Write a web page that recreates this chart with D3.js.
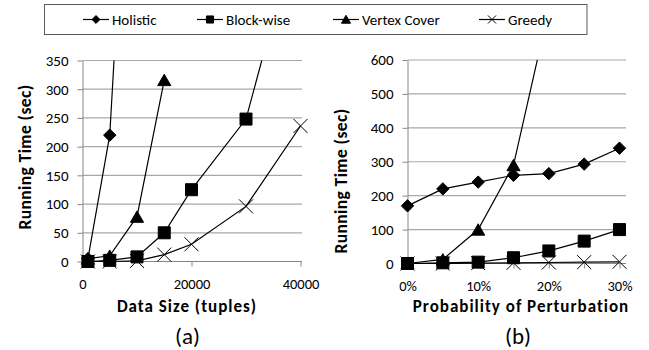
<!DOCTYPE html>
<html>
<head>
<meta charset="utf-8">
<script src="https://cdn.jsdelivr.net/npm/d3@7"></script>
<style>
    body { margin: 0; background: #fff; }
    svg { font-family: Carlito, Calibri, Lato, sans-serif; }
</style>
</head>
<body>
<svg id="chart" width="649" height="350"></svg>
<script>
// legend / series order
const seriesNames = ['Holistic', 'Block-wise', 'Vertex Cover', 'Greedy'];

// (a) running time vs data size
const sizeX = [1000, 5000, 10000, 15000, 20000, 30000, 40000];
const sizeHolistic = [5, 220, 1050];
const sizeBlockwise = [0, 2, 8, 50, 125, 248, 600];
const sizeVertex = [5, 10, 78, 316];
const sizeGreedy = [0, 0, 1, 12, 30, 96, 236];
const sizeXTicks = [0, 20000, 40000];
const sizeYTicks = [0, 50, 100, 150, 200, 250, 300, 350];

// (b) running time vs probability of perturbation
const probX = [0, 0.05, 0.10, 0.15, 0.20, 0.25, 0.30];
const probHolistic = [170, 220, 240, 260, 265, 293, 340];
const probBlockwise = [0, 2, 4, 17, 37, 66, 100];
const probVertex = [0, 12, 100, 290, 750];
const probGreedy = [0, 0, 1, 2, 3, 4, 5];
const probXTicks = [0, 0.10, 0.20, 0.30];
const probYTicks = [0, 100, 200, 300, 400, 500, 600];

const gridColor = '#a8a8a8';
const axisColor = '#868686';
const font = 'Carlito, Calibri, Lato, sans-serif';

const symX = d3.symbolX || d3.symbolTimes;

// marker look per series (size = plot, small = legend)
const markers = {
    'Holistic':     {type: d3.symbolDiamond2, size: 98, small: 40, fill: '#000', dy: 0},
    'Block-wise':   {type: d3.symbolSquare, size: 144, small: 50, fill: '#000', dy: 0},
    'Vertex Cover': {type: d3.symbolTriangle, size: 75, small: 36, fill: '#000', dy: 1.8},
    'Greedy':       {type: symX, size: 130, small: 44, fill: 'none', dy: 0}
};

const svg = d3.select('#chart');

// legend
const legendX = [83, 197, 333, 479];
svg.append('rect')
    .attr('x', 44.5).attr('y', 4.5).attr('width', 542.5).attr('height', 30)
    .attr('fill', 'none').attr('stroke', '#5a5a5a').attr('stroke-width', 1);

seriesNames.forEach((name, i) => {
    const g = svg.append('g').attr('transform', `translate(${legendX[i]}, 19.5)`);
    const m = markers[name];
    g.append('line').attr('x1', 0).attr('x2', 26).attr('y1', 0).attr('y2', 0)
        .attr('stroke', '#000').attr('stroke-width', 1.2);
    g.append('path')
        .attr('d', d3.symbol().type(m.type).size(m.small)())
        .attr('transform', `translate(13, ${m.dy * 0.6})`)
        .attr('fill', m.fill).attr('stroke', '#000').attr('stroke-width', 1);
    g.append('text').attr('x', 29).attr('y', 5.5).text(name)
        .attr('font-size', 15).attr('font-family', font).attr('fill', '#000');
});

function drawPanel(p) {
    const x = p.x, y = p.y;
    const x0 = x.range()[0];
    const yBottom = y.range()[0], yTop = y.range()[1];
    const g = svg.append('g');

    // horizontal gridlines
    g.selectAll('.grid').data(p.yTicks.filter(t => t > 0)).enter()
        .append('line')
        .attr('x1', x0).attr('x2', p.gridEnd)
        .attr('y1', d => y(d)).attr('y2', d => y(d))
        .attr('stroke', gridColor).attr('stroke-width', 1.2);

    // y axis
    const yAxis = g.append('g').attr('transform', `translate(${x0}, 0)`)
        .call(d3.axisLeft(y).tickValues(p.yTicks).tickSize(5).tickSizeOuter(0).tickPadding(9));
    yAxis.select('.domain').attr('stroke', axisColor);
    yAxis.selectAll('.tick line').attr('stroke', axisColor);
    yAxis.selectAll('text').attr('font-size', 15).attr('font-family', font).attr('fill', '#000');

    // x axis
    const xAxis = g.append('g').attr('transform', `translate(0, ${yBottom})`)
        .call(d3.axisBottom(x).tickValues(p.xTickMarks).tickSize(5).tickSizeOuter(0)
            .tickFormat(d => p.xTicks.some(t => Math.abs(t - d) < 1e-9) ? p.xFormat(d) : ''));
    xAxis.select('.domain').remove();
    xAxis.append('line').attr('x1', x0).attr('x2', p.gridEnd).attr('y1', 0).attr('y2', 0)
        .attr('stroke', axisColor);
    xAxis.selectAll('.tick line').attr('stroke', axisColor);
    xAxis.selectAll('text').attr('y', 17).attr('font-size', 14.5).attr('font-family', font).attr('fill', '#000');

    // clip for lines that run off the top
    const clipId = 'clip-' + p.id;
    svg.append('clipPath').attr('id', clipId).append('rect')
        .attr('x', x0 - 20).attr('y', yTop).attr('width', p.gridEnd - x0 + 40).attr('height', yBottom - yTop + 30);

    // later legend entries sit underneath
    const order = p.series.slice().reverse();
    order.forEach(s => {
        const m = markers[s.name];
        const line = d3.line().x((d, i) => x(p.xs[i])).y(d => y(d));
        g.append('path').datum(s.values)
            .attr('d', line)
            .attr('clip-path', `url(#${clipId})`)
            .attr('fill', 'none').attr('stroke', '#000').attr('stroke-width', 1.2);

        g.selectAll(null).data(s.values.map((v, i) => [p.xs[i], v]).filter(d => d[1] <= y.domain()[1]))
            .enter().append('path')
            .attr('d', d3.symbol().type(m.type).size(m.size)())
            .attr('transform', d => `translate(${x(d[0])}, ${y(d[1]) + m.dy})`)
            .attr('fill', m.fill).attr('stroke', '#000').attr('stroke-width', 1);
    });

    // titles
    svg.append('text')
        .attr('transform', `translate(${p.yTitleX}, ${p.yTitleY}) rotate(-90)`)
        .attr('text-anchor', 'middle').attr('dy', '0.35em')
        .attr('font-size', 17.5).attr('font-weight', 'bold').attr('font-family', font)
        .attr('letter-spacing', 0.4)
        .text('Running Time (sec)');
    svg.append('text')
        .attr('x', p.xTitleX).attr('y', 311.5)
        .attr('text-anchor', 'middle')
        .attr('font-size', 17).attr('font-weight', 'bold').attr('font-family', font)
        .attr('letter-spacing', 1)
        .text(p.xTitle);
    svg.append('text')
        .attr('x', p.captionX).attr('y', 344)
        .attr('text-anchor', 'middle')
        .attr('font-size', 23).attr('font-family', font)
        .text(p.caption);
}

drawPanel({
    id: 'a',
    x: d3.scaleLinear().domain([0, 40000]).range([82.5, 300.5]),
    y: d3.scaleLinear().domain([0, 350]).range([261.5, 60.5]),
    xs: sizeX,
    series: [
        {name: seriesNames[0], values: sizeHolistic},
        {name: seriesNames[1], values: sizeBlockwise},
        {name: seriesNames[2], values: sizeVertex},
        {name: seriesNames[3], values: sizeGreedy}
    ],
    xTicks: sizeXTicks,
    xTickMarks: sizeXTicks,
    xFormat: d3.format('d'),
    yTicks: sizeYTicks,
    gridEnd: 302,
    yTitleX: 25, yTitleY: 157,
    xTitle: 'Data Size (tuples)', xTitleX: 187,
    caption: '(a)', captionX: 187.5
});

drawPanel({
    id: 'b',
    x: d3.scaleLinear().domain([0, 0.30]).range([407.5, 619.5]),
    y: d3.scaleLinear().domain([0, 600]).range([263.5, 60]),
    xs: probX,
    series: [
        {name: seriesNames[0], values: probHolistic},
        {name: seriesNames[1], values: probBlockwise},
        {name: seriesNames[2], values: probVertex},
        {name: seriesNames[3], values: probGreedy}
    ],
    xTicks: probXTicks,
    xTickMarks: probX,
    xFormat: d3.format('.0%'),
    yTicks: probYTicks,
    gridEnd: 626,
    yTitleX: 341, yTitleY: 181,
    xTitle: 'Probability of Perturbation', xTitleX: 521,
    caption: '(b)', captionX: 518
});
</script>
</body>
</html>
